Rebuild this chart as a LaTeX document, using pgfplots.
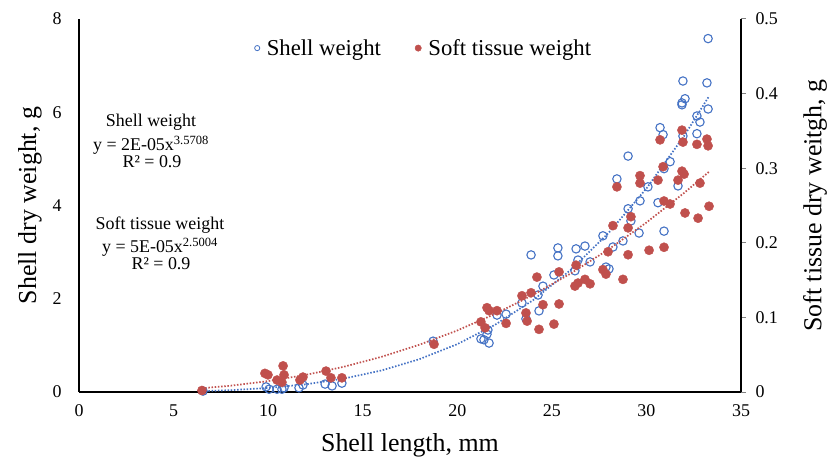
\documentclass[border=0pt]{standalone}
\usepackage{pgfplots}
\pgfplotsset{compat=1.18}
\usepackage{pgfplotstable}
\usepackage{fontspec}
\setmainfont{Liberation Serif}

\definecolor{shellblue}{RGB}{68,114,196}
\definecolor{softred}{RGB}{192,80,77}

% shell length (mm) vs shell dry weight (g)
\pgfplotstableread{
len w
6.56 0.02
9.89 0.11
10.05 0.06
10.47 0.06
10.73 0.06
10.84 0.09
11.63 0.09
11.84 0.15
13.01 0.17
13.38 0.13
13.90 0.19
18.72 1.09
21.25 1.14
21.41 1.12
21.68 1.05
21.57 1.24
21.62 1.33
22.10 1.65
22.58 1.67
23.63 1.57
23.42 1.91
24.32 1.74
24.27 2.08
24.53 2.27
23.90 2.94
25.11 2.51
25.32 3.09
25.32 2.92
26.22 2.60
26.28 3.07
26.38 2.83
26.75 3.13
27.02 2.79
27.70 3.35
27.86 2.68
28.02 2.64
28.23 3.11
28.44 4.57
28.76 3.24
29.03 5.06
29.03 3.93
29.18 3.67
29.61 3.41
29.66 4.10
30.08 4.40
30.61 4.06
30.93 3.45
30.93 4.79
31.25 4.94
31.67 4.42
30.72 5.67
30.88 5.52
31.93 5.49
32.67 5.54
32.67 5.92
32.83 5.79
31.88 6.20
31.88 6.16
32.04 6.29
31.93 6.67
33.20 6.63
33.26 6.07
33.26 7.58
}\shell

% shell length (mm) vs soft tissue dry weight (g)
\pgfplotstableread{
len w
6.50 0.002
9.83 0.025
9.99 0.023
10.47 0.016
10.79 0.035
10.84 0.023
10.73 0.013
11.68 0.016
11.84 0.020
13.06 0.028
13.32 0.019
13.90 0.019
18.77 0.064
21.25 0.094
21.47 0.086
21.57 0.113
21.68 0.109
22.10 0.109
22.58 0.092
23.42 0.129
23.63 0.106
23.69 0.095
23.90 0.133
24.21 0.154
24.32 0.084
24.53 0.117
25.11 0.091
25.38 0.161
25.38 0.118
26.28 0.170
26.22 0.142
26.38 0.146
26.75 0.151
27.02 0.145
27.70 0.164
27.86 0.158
27.97 0.188
28.23 0.223
28.44 0.275
28.76 0.151
29.03 0.184
29.03 0.220
29.18 0.235
29.66 0.290
29.66 0.280
30.14 0.190
30.61 0.284
30.93 0.194
30.93 0.256
31.25 0.252
30.88 0.302
30.72 0.338
31.88 0.296
31.99 0.292
31.67 0.284
31.93 0.335
31.88 0.351
32.67 0.332
33.20 0.339
33.26 0.330
32.83 0.280
32.04 0.240
32.73 0.233
33.31 0.249
}\soft

% power trendlines, sampled
\pgfplotstableread{
len w
6.5 0.0185
8 0.0389
10 0.0864
12 0.1656
14 0.2872
16 0.4625
18 0.7044
20 1.0261
22 1.4421
24 1.9676
26 2.6186
28 3.4119
30 4.3650
32 5.4966
33.3 6.3371
}\shelltrend

\pgfplotstableread{
len w
6.5 0.0050
8 0.0084
10 0.0146
12 0.0230
14 0.0338
16 0.0472
18 0.0634
20 0.0825
22 0.1047
24 0.1301
26 0.1589
28 0.1912
30 0.2272
32 0.2670
33.3 0.2950
}\softtrend

\pgfplotsset{
  base/.style={
    at={(0,0)}, anchor=south west, scale only axis,
    width=662bp, height=373bp,
    xmin=0, xmax=35,
    axis line style={line width=1.2bp, black, -},
    tick label style={font=\fontsize{18}{18}\selectfont},
    label style={font=\fontsize{26}{26}\selectfont},
    /pgf/number format/assume math mode=true,
  },
  trend/.style={no marks, line width=1.7bp, dash pattern=on 1.5bp off 1.7bp},
}

\begin{document}
\begin{tikzpicture}
\path[use as bounding box] (-79bp,-70bp) rectangle (759bp,392bp);

\begin{axis}[base,
  ymin=0, ymax=8,
  axis x line*=bottom, axis y line*=left,
  xtick={0,5,...,35}, ytick={0,2,...,8},
  major tick length=0pt,
  xticklabel style={yshift=-9bp},
  yticklabel style={xshift=-14bp},
  xlabel={Shell length, mm},
  ylabel={Shell dry weight, g},
  xlabel style={at={(axis description cs:0.5,-0.143)}, anchor=center},
  ylabel style={at={(axis description cs:-0.074,0.5)}, anchor=center},
  legend style={at={(axis description cs:0.521,0.922)}, anchor=center,
    draw=none, fill=none, font=\fontsize{22.8}{22.8}\selectfont,
    legend columns=2,
    /tikz/every odd column/.append style={column sep=5bp},
    /tikz/every even column/.append style={column sep=32bp}},
]
\addlegendimage{only marks, mark=o, mark size=2.6bp, shellblue, mark options={line width=0.8bp}}
\addlegendentry{Shell weight}
\addlegendimage{only marks, mark=*, mark size=3.2bp, softred}
\addlegendentry{Soft tissue weight}
\addplot[forget plot, only marks, mark=o, mark size=4.2bp, shellblue,
  mark options={line width=1.1bp}] table[x=len, y=w] {\shell};
\addplot[forget plot, trend, shellblue] table[x=len, y=w] {\shelltrend};
\end{axis}

\begin{axis}[base,
  ymin=0, ymax=0.5,
  axis x line=none, axis y line*=right,
  ytick={0,0.1,...,0.5},
  yticklabel style={xshift=6bp, /pgf/number format/fixed, /pgf/number format/precision=1},
  major tick length=5bp, tick style={gray, line width=1bp},
  ytick align=outside,
  ylabel={Soft tissue dry weitgh, g},
  ylabel style={at={(axis description cs:1.112,0.5)}, anchor=center, rotate=0},
]
\addplot[only marks, mark=*, mark size=4.6bp, softred] table[x=len, y=w] {\soft};
\addplot[trend, softred] table[x=len, y=w] {\softtrend};
\end{axis}

\begin{scope}[font=\fontsize{18}{18}\selectfont]
\node[anchor=base] at (72bp,265bp) {Shell weight};
\node[anchor=base] at (72bp,241bp) {y = 2E-05x\textsuperscript{3.5708}};
\node[anchor=base] at (73bp,224bp) {R² = 0.9};
\node[anchor=base] at (81bp,162bp) {Soft tissue weight};
\node[anchor=base] at (81bp,139bp) {y = 5E-05x\textsuperscript{2.5004}};
\node[anchor=base] at (82bp,122bp) {R² = 0.9};
\end{scope}
\end{tikzpicture}
\end{document}
